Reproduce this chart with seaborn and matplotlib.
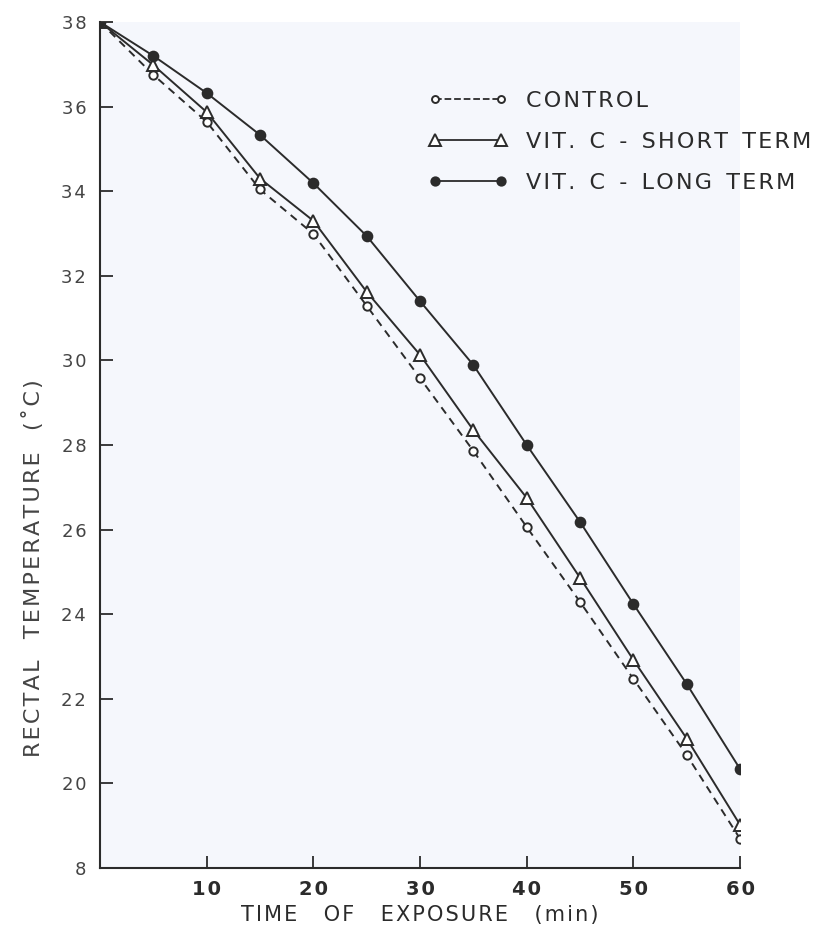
import pandas as pd
import matplotlib.pyplot as plt
import seaborn as sns

# values (rectal temperature, deg C)
time_min = [0, 5, 10, 15, 20, 25, 30, 35, 40, 45, 50, 55, 60]
control = [38.0, 36.75, 35.64, 34.04, 32.99, 31.29, 29.58, 27.86, 26.06, 24.29, 22.47, 20.67, 18.69]
vitc_short = [38.0, 36.98, 35.87, 34.30, 33.30, 31.62, 30.13, 28.35, 26.75, 24.86, 22.92, 21.06, 19.02]
vitc_long = [38.0, 37.20, 36.32, 35.33, 34.19, 32.94, 31.40, 29.89, 28.00, 26.18, 24.24, 22.35, 20.34]

group_names = ["CONTROL", "VIT. C - SHORT TERM", "VIT. C - LONG TERM"]
y_ticks = [18, 20, 22, 24, 26, 28, 30, 32, 34, 36, 38]
y_tick_labels = ["8", "20", "22", "24", "26", "28", "30", "32", "34", "36", "38"]
x_ticks = [10, 20, 30, 40, 50, 60]


def spaced(s, gap="  "):
    # old stencil lettering: letters spread out a little, words further apart
    return gap.join("\u200a".join(w) for w in s.split(" "))


df = pd.DataFrame({
    "time": time_min * 3,
    "temp": control + vitc_short + vitc_long,
    "group": [group_names[0]] * len(time_min)
             + [group_names[1]] * len(time_min)
             + [group_names[2]] * len(time_min),
})

sns.set_theme(style="ticks")
plt.rcParams["font.family"] = ["DejaVu Sans"]
ink = "#2b2b2b"

fig = plt.figure(figsize=(8.22, 9.32), dpi=100)
fig.patch.set_facecolor("white")
ax = fig.add_axes([0.1217, 0.0687, 0.7786, 0.9077])
ax.set_facecolor("#f5f7fc")

sns.lineplot(
    data=df, x="time", y="temp", style="group", ax=ax,
    markers={group_names[0]: "o", group_names[1]: "^", group_names[2]: "o"},
    dashes={group_names[0]: (4, 3), group_names[1]: "", group_names[2]: ""},
    color=ink, linewidth=1.4, markersize=7, legend=False,
)

# open markers for control / short term, filled for long term
lines = ax.get_lines()
for ln, face, ms in zip(lines, ["white", "white", ink], [6, 9, 7]):
    ln.set_markerfacecolor(face)
    ln.set_markeredgecolor(ink)
    ln.set_markeredgewidth(1.4)
    ln.set_markersize(ms)

ax.set_xlim(0, 60)
ax.set_ylim(18, 38)
ax.set_xticks(x_ticks)
ax.set_xticklabels([spaced(str(v)) for v in x_ticks], fontsize=14, fontweight="bold", color=ink)
ax.set_yticks(y_ticks)
ax.set_yticklabels([spaced(s) for s in y_tick_labels], fontsize=13, color="#444444")
ax.tick_params(axis="both", direction="in", length=9, width=1.3, color=ink)
ax.tick_params(axis="x", pad=9)
ax.tick_params(axis="y", pad=10)
sns.despine(ax=ax)
for side in ["left", "bottom"]:
    ax.spines[side].set_color(ink)
    ax.spines[side].set_linewidth(1.5)

ax.set_xlabel(spaced("TIME OF EXPOSURE (min)", gap="    "), fontsize=15, color=ink, labelpad=4)
ax.set_ylabel(spaced("RECTAL TEMPERATURE (\u02daC)", gap="   "), fontsize=16, color="#444444")
ax.yaxis.set_label_coords(-0.088, 0.355)

# legend: marker at both ends of a short line segment
handles = [plt.Line2D([], [], color=ln.get_color(), linestyle=ln.get_linestyle(),
                      linewidth=1.3, marker=ln.get_marker(),
                      markerfacecolor=ln.get_markerfacecolor(),
                      markeredgecolor=ink, markeredgewidth=1.4,
                      markersize=ln.get_markersize() - 1)
           for ln in lines]
leg = fig.legend(handles, [spaced(s) for s in group_names], loc="upper left",
                 bbox_to_anchor=(0.51, 0.912), frameon=False, numpoints=2,
                 handlelength=3.6, handletextpad=0.8, labelspacing=0.95, fontsize=16,
                 borderaxespad=0)
for t in leg.get_texts():
    t.set_color(ink)

fig.savefig("out.png", dpi=100)
